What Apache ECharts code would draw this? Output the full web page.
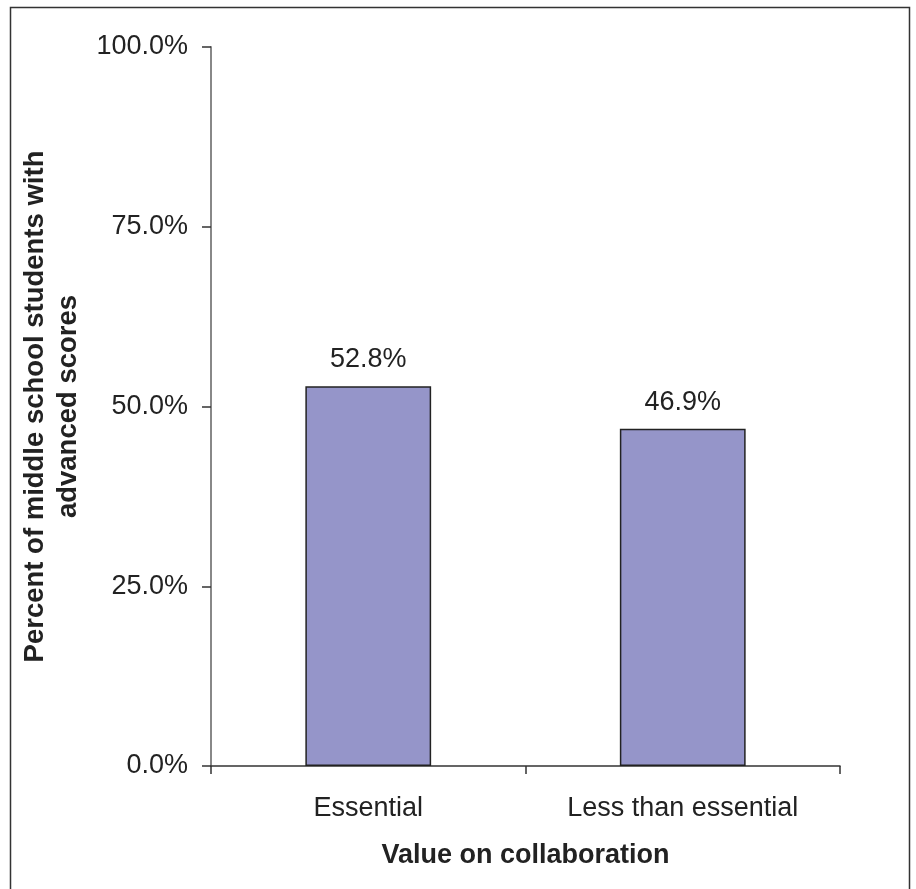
<!DOCTYPE html>
<html>
<head>
<meta charset="utf-8">
<script src="https://cdn.jsdelivr.net/npm/echarts@6/dist/echarts.min.js"></script>
<style>
  html, body { margin: 0; padding: 0; background: #fff; }
  #chart { width: 916px; height: 889px; }
</style>
</head>
<body>
<div id="chart"></div>
<script>
// Share of middle school students with advanced scores, by value on collaboration
const categories = ['Essential', 'Less than essential'];
const percentAdvanced = [52.8, 46.9];
const yTicks = [0, 25, 50, 75, 100];

const FONT = '"Liberation Sans", Arial, Helvetica, sans-serif';
const TEXT = '#222';

const chart = echarts.init(document.getElementById('chart'), null, { renderer: 'canvas' });

chart.setOption({
  backgroundColor: '#fff',
  animation: false,
  // outer frame of the figure
  graphic: [{
    type: 'rect',
    silent: true,
    shape: { x: 10.5, y: 7.5, width: 899, height: 920 },
    style: { fill: 'none', stroke: '#333', lineWidth: 1.5 }
  }],
  grid: { left: 211, right: 76, top: 47, bottom: 123, containLabel: false },
  xAxis: {
    type: 'category',
    data: categories,
    name: 'Value on collaboration',
    nameLocation: 'middle',
    nameGap: 76,
    nameTextStyle: { fontFamily: FONT, fontSize: 27, fontWeight: 'bold', color: TEXT, lineHeight: 27 },
    axisLine: { lineStyle: { color: '#333', width: 1.5 } },
    axisTick: { show: true, length: 8, lineStyle: { color: '#333', width: 1.5 } },
    axisLabel: { fontFamily: FONT, fontSize: 27, color: TEXT, margin: 29, lineHeight: 27 },
    splitLine: { show: false }
  },
  yAxis: {
    type: 'value',
    min: yTicks[0],
    max: yTicks[yTicks.length - 1],
    interval: yTicks[1] - yTicks[0],
    name: 'Percent of middle school students with\nadvanced scores',
    nameLocation: 'middle',
    nameRotate: 90,
    nameGap: 126,
    nameTextStyle: { fontFamily: FONT, fontSize: 27.5, fontWeight: 'bold', color: TEXT, lineHeight: 33, align: 'center' },
    axisLine: { show: true, lineStyle: { color: '#888', width: 2 } },
    axisTick: { show: true, length: 9, lineStyle: { color: '#333', width: 1.5 } },
    axisLabel: {
      fontFamily: FONT, fontSize: 27, color: TEXT, margin: 23,
      formatter: v => v.toFixed(1) + '%'
    },
    splitLine: { show: false }
  },
  series: [{
    type: 'bar',
    data: percentAdvanced,
    barWidth: '40%',
    itemStyle: { color: '#9595C9', borderColor: '#222', borderWidth: 1.5 },
    label: {
      show: true,
      position: 'top',
      distance: 13,
      fontFamily: FONT,
      fontSize: 27,
      color: TEXT,
      formatter: p => p.value.toFixed(1) + '%'
    }
  }]
});
</script>
</body>
</html>
